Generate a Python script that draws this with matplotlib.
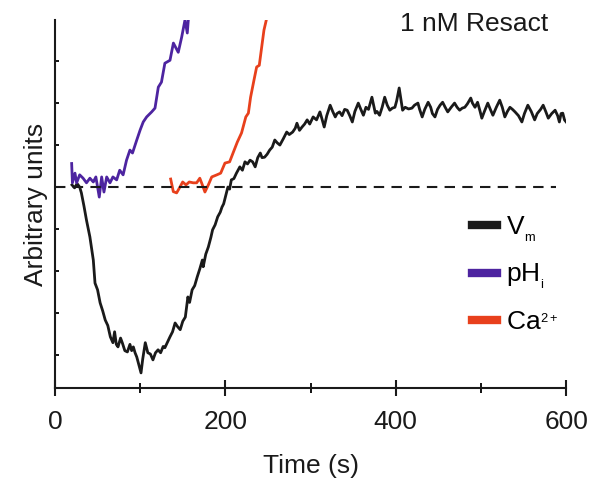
import numpy as np
import matplotlib
matplotlib.use("Agg")
import matplotlib.pyplot as plt
from matplotlib.lines import Line2D
from matplotlib.ticker import MultipleLocator

plt.rcParams['font.family'] = ['Liberation Sans', 'DejaVu Sans']
plt.rcParams['mathtext.fontset'] = 'custom'
plt.rcParams['mathtext.rm'] = 'Liberation Sans'
plt.rcParams['mathtext.it'] = 'Liberation Sans'

# traces: (time in s, arbitrary units)
vm_points = [
    (20, 0.05), (23, -0.02), (26, 0.08), (29, 0.0), (31, -0.14), (34, -0.45),
    (37, -0.79), (41, -1.19), (45, -1.74), (47, -2.29), (50, -2.45), (53, -2.76),
    (56, -2.95), (59, -3.17), (62, -3.3), (65, -3.57), (68, -3.71), (70, -3.45),
    (72, -3.75), (74, -3.81), (77, -3.6), (79, -3.71), (82, -3.9), (85, -3.93),
    (88, -3.75), (90, -3.9), (92, -3.81), (94, -3.95), (96, -4.05), (98, -4.2),
    (101, -4.43), (103, -4.1), (106, -3.71), (109, -3.95), (112, -3.98), (115, -4.12),
    (118, -3.95), (121, -3.88), (124, -3.95), (127, -3.8), (129, -3.83), (132, -3.7),
    (135, -3.57), (138, -3.45), (141, -3.24), (144, -3.33), (147, -3.40), (150, -3.2),
    (153, -3.10), (156, -2.62), (158, -2.75), (161, -2.45), (164, -2.35), (167, -2.14),
    (170, -1.95), (173, -1.74), (174, -1.90), (177, -1.6), (180, -1.43), (183, -1.2),
    (185, -1.02), (188, -0.9), (191, -0.71), (194, -0.6), (196, -0.48), (198, -0.4),
    (200, -0.24), (203, 0.0), (205, -0.05), (207, 0.17), (210, 0.2), (213, 0.33),
    (217, 0.48), (220, 0.4), (223, 0.6), (226, 0.55), (229, 0.64), (232, 0.6),
    (235, 0.48), (238, 0.7), (241, 0.81), (243, 0.7), (246, 0.71), (249, 0.78),
    (252, 0.88), (255, 0.95), (258, 1.12), (261, 1.05), (264, 1.0), (268, 1.15),
    (272, 1.31), (275, 1.25), (279, 1.31), (282, 1.4), (284, 1.52), (287, 1.35),
    (290, 1.43), (293, 1.5), (296, 1.6), (299, 1.5), (303, 1.67), (307, 1.6),
    (311, 1.79), (313, 1.65), (316, 1.43), (319, 1.7), (323, 1.95), (326, 1.8),
    (329, 1.67), (331, 1.75), (334, 1.79), (337, 1.7), (340, 1.85), (343, 1.83),
    (346, 1.7), (349, 1.55), (352, 1.8), (356, 2.0), (359, 1.85), (362, 1.71),
    (365, 1.9), (368, 1.85), (372, 2.14), (374, 1.95), (376, 1.76), (378, 1.8),
    (381, 1.71), (384, 1.9), (387, 2.14), (390, 1.95), (393, 1.83), (396, 1.88),
    (399, 1.9), (401, 2.05), (404, 2.36), (406, 2.1), (408, 1.83), (411, 1.9),
    (415, 1.86), (419, 1.88), (422, 1.95), (426, 2.0), (428, 1.85), (431, 1.67),
    (434, 1.85), (438, 2.02), (441, 1.9), (443, 1.75), (446, 1.67), (449, 1.85),
    (452, 1.95), (455, 2.02), (458, 1.9), (461, 1.79), (465, 1.9), (469, 2.0),
    (472, 1.9), (475, 1.83), (478, 1.88), (481, 1.9), (484, 1.98), (488, 2.12),
    (490, 2.0), (493, 1.9), (496, 2.02), (499, 1.8), (501, 1.64), (504, 1.8),
    (508, 2.0), (511, 1.85), (514, 1.71), (518, 1.9), (522, 2.07), (525, 1.9),
    (528, 1.67), (531, 1.8), (534, 1.9), (537, 1.85), (540, 1.79), (544, 1.7),
    (548, 1.55), (551, 1.75), (555, 1.95), (559, 1.8), (563, 1.6), (566, 1.75),
    (570, 1.85), (573, 1.95), (576, 1.8), (579, 1.64), (583, 1.75), (587, 1.83),
    (590, 1.7), (592, 1.55), (594, 1.75), (596, 1.76), (598, 1.6), (600, 1.55),
]

ph_points = [
    (19.6, 0.56), (20.5, 0.1), (23.5, 0.33), (25.4, 0.1), (29, 0.29), (33, 0.21),
    (37, 0.1), (41, 0.21), (45, 0.12), (48, 0.24), (52, -0.24), (54.8, 0.24),
    (57.5, -0.12), (60.7, 0.24), (64.6, 0.1), (68, 0.24), (72.4, 0.17), (76, 0.4),
    (80, 0.29), (84, 0.64), (88, 0.88), (91, 0.81), (96, 1.12), (100, 1.36),
    (103.6, 1.55), (107.6, 1.67), (113.5, 1.79), (117.4, 1.88), (121.3, 2.38),
    (125, 2.5), (129, 2.95), (135, 3.02), (139, 3.43), (144.7, 3.21), (148.7, 3.57),
    (152.6, 3.98), (155.3, 3.67), (156.5, 3.98),
]

ca_points = [
    (135.8, 0.19), (138.9, -0.11), (142.8, -0.14), (146.7, 0.0), (149.9, 0.12),
    (153.8, 0.05), (157.6, 0.12), (162.3, 0.1), (166.3, 0.1), (170, 0.21),
    (173, 0.05), (176, -0.12), (180, 0.05), (184, 0.24), (190, 0.29), (194.5, 0.33),
    (199.5, 0.57), (205, 0.6), (209, 0.81), (214, 1.07), (219, 1.29), (224, 1.67),
    (227, 1.76), (229.6, 2.14), (233.6, 2.55), (236.7, 2.86), (239.8, 2.9),
    (242.6, 3.33), (245.3, 3.74), (248.5, 4.02),
]

baseline_span = [0, 588]
labels = [r'V$_{_{\rm m}}$', r'pH$_{_{\rm i}}$', r'Ca$^{_{2+}}$']
colors = ['#1a1a1a', '#4d24a0', '#e8401c']

fig = plt.figure(figsize=(5.91, 4.82), dpi=100)
ax = fig.add_axes([0.093, 0.195, 0.865, 0.7635])

for pts, c in zip([vm_points, ph_points, ca_points], colors):
    t, v = zip(*pts)
    ax.plot(t, v, color=c, lw=2.0, solid_joinstyle='round')

ax.plot(baseline_span, [0, 0], color='#1a1a1a', lw=1.5, dashes=(5, 3.5))

ax.set_xlim(0, 600)
ax.set_ylim(-4.79, 3.98)
ax.spines['top'].set_visible(False)
ax.spines['right'].set_visible(False)
for s in ['left', 'bottom']:
    ax.spines[s].set_linewidth(1.5)
    ax.spines[s].set_color('#1a1a1a')

ax.xaxis.set_major_locator(MultipleLocator(200))
ax.xaxis.set_minor_locator(MultipleLocator(100))
ax.tick_params(axis='x', which='major', direction='inout', length=12, width=1.5,
               labelsize=19, pad=10, colors='#1a1a1a')
ax.tick_params(axis='x', which='minor', direction='inout', length=7, width=1.3)
ax.yaxis.set_major_locator(MultipleLocator(1))
ax.tick_params(axis='y', which='major', direction='in', length=3, width=1.3,
               labelleft=False)

ax.set_xlabel('Time (s)', fontsize=19, labelpad=14, color='#1a1a1a')
ax.set_ylabel('Arbitrary units', fontsize=19, labelpad=5, color='#1a1a1a')
ax.text(0.965, 0.99, '1 nM Resact', transform=ax.transAxes, ha='right', va='center',
        fontsize=19, color='#1a1a1a')

handles = [Line2D([0], [0], color=c, lw=6) for c in colors]
ax.legend(handles, labels, loc='upper left', bbox_to_anchor=(0.795, 0.50),
          frameon=False, fontsize=19, handlelength=0.95, handletextpad=0.35,
          labelspacing=0.7, borderaxespad=0)

fig.savefig('out.png', dpi=100)
